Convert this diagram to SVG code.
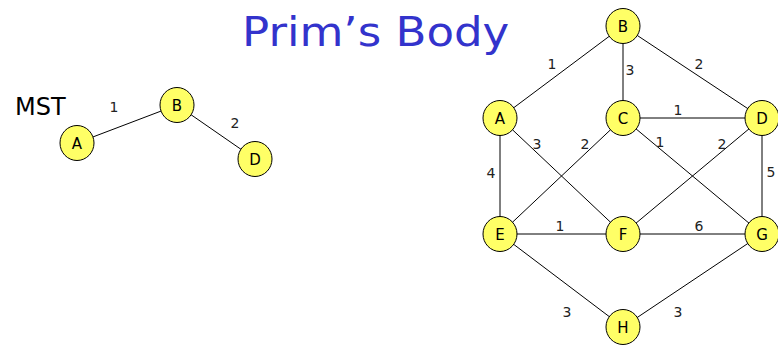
<svg xmlns="http://www.w3.org/2000/svg" width="778" height="346" viewBox="0 0 778 346">
<style>
.n ellipse{fill:#FFFF66;stroke:#000;stroke-width:1}
.n text{font-family:"DejaVu Sans",Verdana,sans-serif;font-size:15px;text-anchor:middle;fill:#000}
.e line{stroke:#000;stroke-width:1}
.w{font-family:"DejaVu Sans",Verdana,sans-serif;font-size:14px;text-anchor:middle;fill:#222}
</style>
<rect width="778" height="346" fill="#fff"/>
<text transform="translate(242,46) scale(1.1,1)" x="0" y="0" font-family="'DejaVu Sans',Verdana,sans-serif" font-size="41" fill="#3333CC">Prim’s Body</text>
<text x="15" y="115" font-family="'DejaVu Sans',Verdana,sans-serif" font-size="24" fill="#000">MST</text>
<g id="connectors" class="e">
<line x1="77" y1="143" x2="177" y2="105"/>
<line x1="177" y1="105" x2="255" y2="159"/>
<line x1="623" y1="26" x2="500" y2="118"/>
<line x1="623" y1="26" x2="623" y2="118"/>
<line x1="623" y1="26" x2="762" y2="118"/>
<line x1="623" y1="118" x2="762" y2="118"/>
<line x1="500" y1="118" x2="623" y2="234"/>
<line x1="500" y1="118" x2="500" y2="234"/>
<line x1="623" y1="118" x2="500" y2="234"/>
<line x1="623" y1="118" x2="762" y2="234"/>
<line x1="762" y1="118" x2="623" y2="234"/>
<line x1="762" y1="118" x2="762" y2="234"/>
<line x1="500" y1="234" x2="623" y2="234"/>
<line x1="623" y1="234" x2="762" y2="234"/>
<line x1="500" y1="234" x2="623" y2="327"/>
<line x1="762" y1="234" x2="623" y2="327"/>
</g>
<g id="weights" class="w">
<text x="114" y="112">1</text>
<text x="235" y="128">2</text>
<text x="552" y="69">1</text>
<text x="630" y="75">3</text>
<text x="699" y="69">2</text>
<text x="678" y="115">1</text>
<text x="537" y="149">3</text>
<text x="585" y="149">2</text>
<text x="660" y="147">1</text>
<text x="722" y="149">2</text>
<text x="491" y="178">4</text>
<text x="771" y="177">5</text>
<text x="560" y="231">1</text>
<text x="699" y="231">6</text>
<text x="567" y="317">3</text>
<text x="678" y="317">3</text>
</g>
<g id="mst-A" class="n"><ellipse cx="77" cy="143" rx="17" ry="17.5"/><text x="77" y="148.5">A</text></g>
<g id="mst-B" class="n"><ellipse cx="177" cy="105" rx="17" ry="17.5"/><text x="177" y="110.5">B</text></g>
<g id="mst-D" class="n"><ellipse cx="255" cy="159" rx="17" ry="17.5"/><text x="255" y="164.5">D</text></g>
<g id="B" class="n"><ellipse cx="623" cy="26" rx="17" ry="17.5"/><text x="623" y="31.5">B</text></g>
<g id="A" class="n"><ellipse cx="500" cy="118" rx="17" ry="17.5"/><text x="500" y="123.5">A</text></g>
<g id="C" class="n"><ellipse cx="623" cy="118" rx="17" ry="17.5"/><text x="623" y="123.5">C</text></g>
<g id="D" class="n"><ellipse cx="762" cy="118" rx="17" ry="17.5"/><text x="762" y="123.5">D</text></g>
<g id="E" class="n"><ellipse cx="500" cy="234" rx="17" ry="17.5"/><text x="500" y="239.5">E</text></g>
<g id="F" class="n"><ellipse cx="623" cy="234" rx="17" ry="17.5"/><text x="623" y="239.5">F</text></g>
<g id="G" class="n"><ellipse cx="762" cy="234" rx="17" ry="17.5"/><text x="762" y="239.5">G</text></g>
<g id="H" class="n"><ellipse cx="623" cy="327" rx="17" ry="17.5"/><text x="623" y="332.5">H</text></g>
</svg>
